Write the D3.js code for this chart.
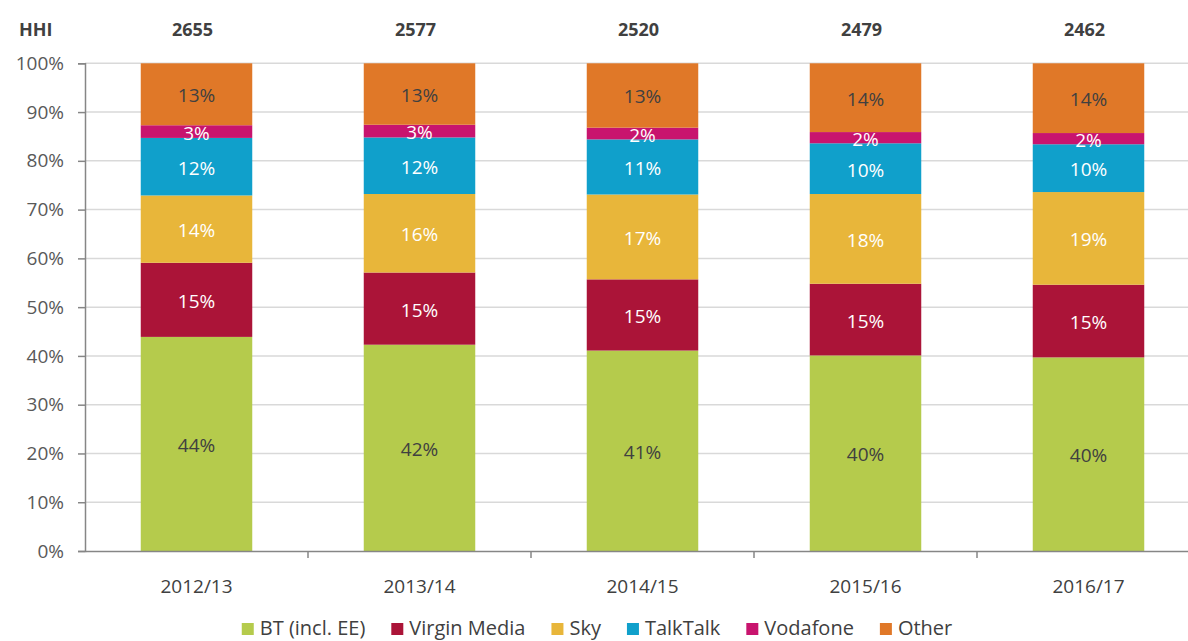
<!DOCTYPE html>
<html>
<head>
<meta charset="utf-8">
<script src="https://cdn.jsdelivr.net/npm/d3@7"></script>
<style>
  html, body { margin: 0; padding: 0; background: #fff; }
  svg { display: block; font-family: "Open Sans", "Noto Sans", sans-serif; }
</style>
</head>
<body>
<svg id="chart" width="1188" height="641"></svg>
<script>
// ---- data ----
const years = ["2012/13", "2013/14", "2014/15", "2015/16", "2016/17"];
const hhi = [2655, 2577, 2520, 2479, 2462];
const seriesNames = ["BT (incl. EE)", "Virgin Media", "Sky", "TalkTalk", "Vodafone", "Other"];
const btShare       = [43.9, 42.3, 41.1, 40.1, 39.7];
const virginShare   = [15.2, 14.8, 14.6, 14.7, 14.9];
const skyShare      = [13.8, 16.1, 17.4, 18.4, 19.0];
const talktalkShare = [11.8, 11.6, 11.3, 10.4, 9.8];
const vodafoneShare = [2.6, 2.6, 2.4, 2.3, 2.3];
const otherShare    = [12.7, 12.6, 13.2, 14.1, 14.3];
const yTicks = [0, 10, 20, 30, 40, 50, 60, 70, 80, 90, 100];

const seriesValues = [btShare, virginShare, skyShare, talktalkShare, vodafoneShare, otherShare];
const colors = ["#b5cb4c", "#ab1438", "#e8b63a", "#10a0cb", "#c8146e", "#e07828"];
const labelColors = ["#404040", "#ffffff", "#ffffff", "#ffffff", "#ffffff", "#404040"];

// ---- layout ----
const svg = d3.select("#chart");
const mLeft = 85, mRight = 1200, mTop = 63.3, mBottom = 551;

const x = d3.scaleBand().domain(years).range([mLeft, mRight]).padding(0);
const y = d3.scaleLinear().domain([0, 100]).range([mBottom, mTop]);
const barW = x.bandwidth() * 0.5;

// gridlines
svg.append("g").selectAll("line")
  .data(yTicks.filter(d => d > 0))
  .join("line")
  .attr("x1", mLeft).attr("x2", mRight)
  .attr("y1", d => y(d)).attr("y2", d => y(d))
  .attr("stroke", "#d9d9d9").attr("stroke-width", 1.5);

// stacked data
const table = years.map((yr, i) => {
  const row = { year: yr };
  seriesNames.forEach((s, k) => row[s] = seriesValues[k][i]);
  return row;
});
const stack = d3.stack().keys(seriesNames)(table);

const layers = svg.append("g").selectAll("g")
  .data(stack)
  .join("g")
  .attr("fill", (d, k) => colors[k]);

layers.selectAll("rect")
  .data(d => d)
  .join("rect")
  .attr("x", d => x(d.data.year) + (x.bandwidth() - barW) / 2)
  .attr("width", barW)
  .attr("y", d => y(d[1]))
  .attr("height", d => y(d[0]) - y(d[1]));

// value labels
stack.forEach((layer, k) => {
  svg.append("g").selectAll("text")
    .data(layer)
    .join("text")
    .attr("x", d => x(d.data.year) + x.bandwidth() / 2)
    .attr("y", d => (y(d[0]) + y(d[1])) / 2 + 1)
    .attr("text-anchor", "middle")
    .attr("dominant-baseline", "central")
    .attr("font-size", 19)
    .attr("fill", labelColors[k])
    .text(d => Math.round(d[1] - d[0]) + "%");
});

// y axis
const yAxis = d3.axisLeft(y).tickValues(yTicks).tickFormat(d => d + "%").tickSize(7).tickPadding(14);
const gy = svg.append("g").attr("transform", `translate(${mLeft},0)`).call(yAxis);
gy.select(".domain").attr("stroke", "#868686").attr("stroke-width", 1.5);
gy.selectAll(".tick line").attr("stroke", "#868686").attr("stroke-width", 1.5);
gy.selectAll(".tick text").attr("font-size", 19).attr("fill", "#595959")
  .attr("font-family", "Open Sans, sans-serif");

// x axis
const xAxis = d3.axisBottom(x).tickSize(0).tickPadding(29);
const gx = svg.append("g").attr("transform", `translate(0,${mBottom})`).call(xAxis);
gx.select(".domain").attr("stroke", "#868686").attr("stroke-width", 1.5);
gx.selectAll(".tick text").attr("font-size", 19).attr("fill", "#404040")
  .attr("font-family", "Open Sans, sans-serif");
// category separator ticks
gx.append("g").selectAll("line")
  .data(years.map((d, i) => mLeft + x.step() * (i + 1)))
  .join("line")
  .attr("x1", d => d).attr("x2", d => d)
  .attr("y1", 0).attr("y2", 7)
  .attr("stroke", "#868686").attr("stroke-width", 1.5);

// HHI row
svg.append("text").attr("x", 19).attr("y", 36)
  .attr("font-size", 18).attr("font-weight", "bold").attr("fill", "#404040")
  .text("HHI");
svg.append("g").selectAll("text")
  .data(years)
  .join("text")
  .attr("x", d => x(d) + x.bandwidth() / 2 - 4)
  .attr("y", 36)
  .attr("text-anchor", "middle")
  .attr("font-size", 18).attr("font-weight", "bold").attr("fill", "#404040")
  .text((d, i) => hhi[i]);

// legend
const legend = svg.append("g");
let lx = 0;
seriesNames.forEach((s, k) => {
  const g = legend.append("g");
  g.append("rect").attr("x", 0).attr("y", 623).attr("width", 12).attr("height", 12).attr("fill", colors[k]);
  const t = g.append("text").attr("x", 18).attr("y", 635)
    .attr("font-size", 20).attr("fill", "#404040").text(s);
  const w = t.node().getComputedTextLength();
  g.attr("transform", `translate(${lx},0)`);
  lx += 18 + w + 26;
});
const totalW = lx - 26;
legend.attr("transform", `translate(${597 - totalW / 2},0)`);
</script>
</body>
</html>
